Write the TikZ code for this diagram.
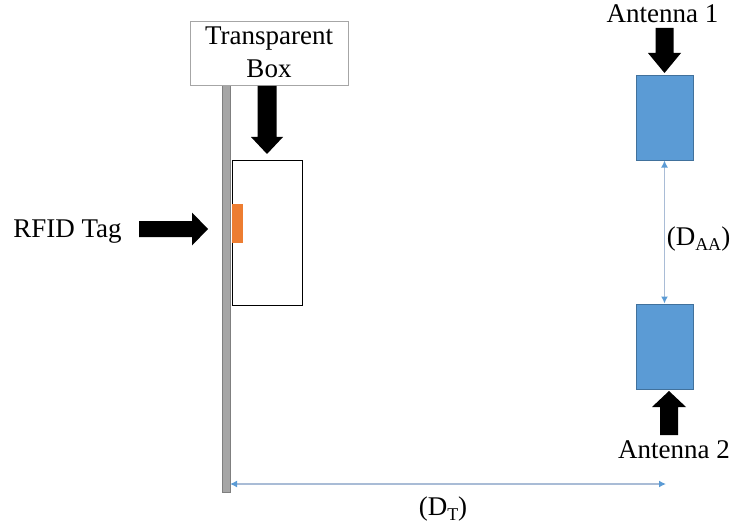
\documentclass[tikz,border=0pt]{standalone}
\usepackage{fontspec}
\setmainfont{Liberation Serif}
\usetikzlibrary{arrows.meta}
\definecolor{antfill}{HTML}{5B9BD5}
\definecolor{antdraw}{HTML}{41719C}
\definecolor{tagorange}{HTML}{ED7D31}
\definecolor{dimline}{HTML}{A9BCD6}
\definecolor{polefill}{HTML}{A6A6A6}
\definecolor{poledraw}{HTML}{7F7F7F}
\newcommand\mysub[1]{\raisebox{-5pt}{\fontsize{18}{18}\selectfont #1}}
\tikzset{
  lbl/.style={inner sep=0pt, anchor=base, font=\fontsize{27}{32}\selectfont},
  antbox/.style={draw=antdraw, fill=antfill, line width=1pt},
  blockarrow/.style={fill=black},
  dimarrow/.style={draw=dimline, line width=1.8pt, {Latex[length=7pt,width=7pt,color=antfill]}-{Latex[length=7pt,width=7pt,color=antfill]}},
}
\begin{document}
\begin{tikzpicture}[x=1pt,y=-1pt]
\useasboundingbox (0,0) rectangle (732,527);
% pole
\draw[fill=polefill, draw=poledraw, line width=0.8pt] (222,85) rectangle (230,492);
\coordinate (poleDT) at (230,484);
% transparent label box
\node[draw=gray!70, fill=white, line width=0.8pt, minimum width=158pt, minimum height=64pt, inner sep=0pt] (tbox) at (269,53) {};
\node[lbl] (tlbl1) at (269,45) {Transparent};
\node[lbl] (tlbl2) at (269,78) {Box};
% down arrow to box
\fill[blockarrow] (257.5,86) -- (276.5,86) -- (276.5,137) -- (283,137) -- (267,154) -- (251,137) -- (257.5,137) -- cycle;
% transparent box
\draw[line width=1pt] (232,160) rectangle (302,305);
% RFID tag
\fill[tagorange] (232,204) rectangle (243,243);
% RFID arrow
\node[lbl] (rfid) at (67.5,237) {RFID Tag};
\fill[blockarrow] (139,221) -- (192,221) -- (192,212.5) -- (208,229) -- (192,245.5) -- (192,237) -- (139,237) -- cycle;
% antennas
\node[antbox, minimum width=57pt, minimum height=84pt, inner sep=0pt] (ant1) at (664.5,118) {};
\node[antbox, minimum width=57pt, minimum height=85pt, inner sep=0pt] (ant2) at (664.5,346.5) {};
\node[lbl] (a1lbl) at (662.5,23) {Antenna 1};
\node[lbl] (a2lbl) at (674,458) {Antenna 2};
\fill[blockarrow] (655.5,28) -- (673.5,28) -- (673.5,53) -- (681,53) -- (664.5,73) -- (648,53) -- (655.5,53) -- cycle;
\fill[blockarrow] (660,435) -- (678,435) -- (678,407) -- (686,407) -- (669,391) -- (652,407) -- (660,407) -- cycle;
% dimensions
\draw[dimarrow] (ant1.south) -- (ant2.north);
\node[lbl] (daa) at (698.5,245) {(D\mysub{AA})};
\coordinate (dtend) at (666,484);
\draw[dimarrow] (poleDT) -- (dtend);
\node[lbl] (dt) at (443,515) {(D\mysub{T})};
\end{tikzpicture}
\end{document}
